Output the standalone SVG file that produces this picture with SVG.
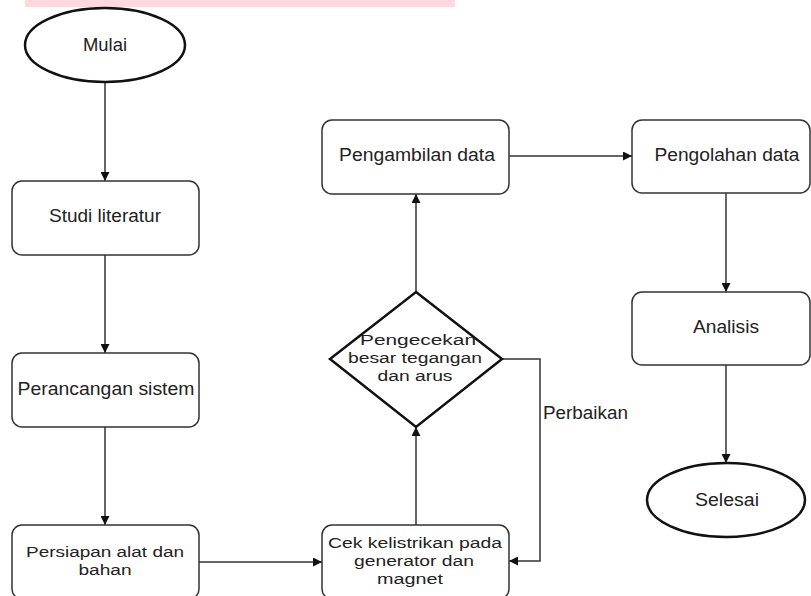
<svg xmlns="http://www.w3.org/2000/svg" width="811" height="596" viewBox="0 0 811 596">
<style>
.box{fill:#fff;stroke:#333;stroke-width:1.5}
.term{fill:#fff;stroke:#111;stroke-width:2.5}
.t{font-family:"Liberation Sans",Arial,sans-serif;font-size:17.5px;fill:#222;text-anchor:middle}
.m{font-size:15.5px}
.lbl{font-family:"Liberation Sans",Arial,sans-serif;font-size:17.5px;fill:#222}
.c{fill:none;stroke:#333;stroke-width:1.5}
</style>
<defs>
<marker id="ah" viewBox="0 0 10 10" refX="10" refY="5" markerWidth="9" markerHeight="9" markerUnits="userSpaceOnUse" orient="auto">
<path d="M0,0 L10,5 L0,10 z" fill="#111"/>
</marker>
</defs>
<rect x="25" y="0" width="430" height="7" fill="#fdd8dc"/>
<g id="connectors">
<line class="c" x1="105" y1="82" x2="105" y2="181" marker-end="url(#ah)"/>
<line class="c" x1="105" y1="255" x2="105" y2="353" marker-end="url(#ah)"/>
<line class="c" x1="105" y1="427" x2="105" y2="525" marker-end="url(#ah)"/>
<line class="c" x1="199" y1="562" x2="322" y2="562" marker-end="url(#ah)"/>
<line class="c" x1="416" y1="525" x2="416" y2="427" marker-end="url(#ah)"/>
<line class="c" x1="416" y1="292" x2="416" y2="194" marker-end="url(#ah)"/>
<polyline class="c" points="502,359 540,359 540,561 509,561" marker-end="url(#ah)"/>
<line class="c" x1="509" y1="156" x2="632" y2="156" marker-end="url(#ah)"/>
<line class="c" x1="726" y1="193" x2="726" y2="292" marker-end="url(#ah)"/>
<line class="c" x1="726" y1="365" x2="726" y2="463" marker-end="url(#ah)"/>
<text class="lbl" x="543" y="419" textLength="85" lengthAdjust="spacingAndGlyphs">Perbaikan</text>
</g>
<g id="mulai">
<ellipse class="term" cx="105" cy="45" rx="80" ry="37"/>
<text class="t" x="105" y="51" textLength="44" lengthAdjust="spacingAndGlyphs">Mulai</text>
</g>
<g id="studi">
<rect class="box" x="12" y="181" width="187" height="74" rx="10"/>
<text class="t" x="105" y="222" textLength="112" lengthAdjust="spacingAndGlyphs">Studi literatur</text>
</g>
<g id="perancangan">
<rect class="box" x="12" y="353" width="187" height="74" rx="10"/>
<text class="t" x="106" y="395" textLength="177" lengthAdjust="spacingAndGlyphs">Perancangan sistem</text>
</g>
<g id="persiapan">
<rect class="box" x="12" y="525" width="187" height="74" rx="10"/>
<text class="t m" x="105" y="557" textLength="158" lengthAdjust="spacingAndGlyphs">Persiapan alat dan</text>
<text class="t m" x="105" y="575" textLength="53" lengthAdjust="spacingAndGlyphs">bahan</text>
</g>
<g id="cek">
<rect class="box" x="322" y="525" width="187" height="74" rx="10"/>
<text class="t m" x="415" y="548" textLength="174" lengthAdjust="spacingAndGlyphs">Cek kelistrikan pada</text>
<text class="t m" x="414" y="566" textLength="120" lengthAdjust="spacingAndGlyphs">generator dan</text>
<text class="t m" x="410" y="584" textLength="66" lengthAdjust="spacingAndGlyphs">magnet</text>
</g>
<g id="pengecekan">
<polygon class="term" points="416,292 502,359 416,427 330,359"/>
<text class="t m" x="418" y="345" textLength="116" lengthAdjust="spacingAndGlyphs">Pengecekan</text>
<text class="t m" x="415" y="363" textLength="134" lengthAdjust="spacingAndGlyphs">besar tegangan</text>
<text class="t m" x="415" y="381" textLength="75" lengthAdjust="spacingAndGlyphs">dan arus</text>
</g>
<g id="pengambilan">
<rect class="box" x="322" y="120" width="187" height="74" rx="10"/>
<text class="t" x="417" y="161" textLength="156" lengthAdjust="spacingAndGlyphs">Pengambilan data</text>
</g>
<g id="pengolahan">
<rect class="box" x="632" y="120" width="178" height="73" rx="10"/>
<text class="t" x="727" y="161" textLength="145" lengthAdjust="spacingAndGlyphs">Pengolahan data</text>
</g>
<g id="analisis">
<rect class="box" x="632" y="292" width="178" height="73" rx="10"/>
<text class="t" x="726" y="333" textLength="66" lengthAdjust="spacingAndGlyphs">Analisis</text>
</g>
<g id="selesai">
<ellipse class="term" cx="726" cy="500" rx="79" ry="37"/>
<text class="t" x="727" y="506" textLength="64" lengthAdjust="spacingAndGlyphs">Selesai</text>
</g>
</svg>
